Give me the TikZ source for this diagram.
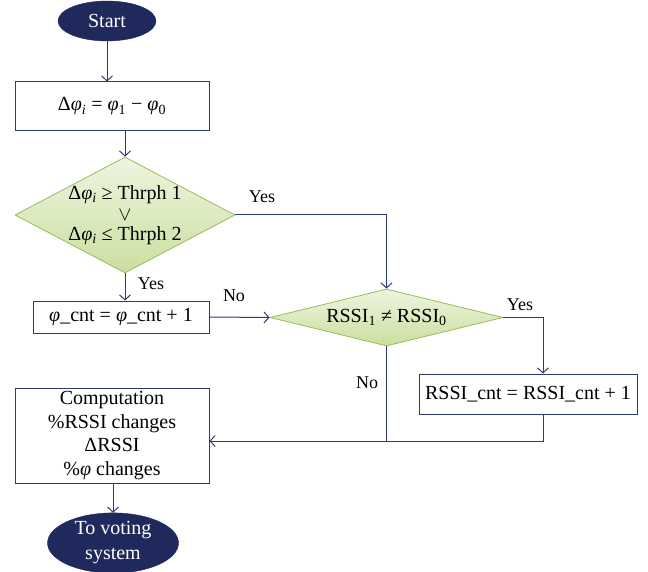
\documentclass[tikz,border=0pt]{standalone}
\usepackage{fontspec}
\setmainfont{Liberation Serif}
\usetikzlibrary{shapes.geometric,arrows.meta}
\definecolor{navy}{HTML}{1F295C}
\definecolor{lineblue}{HTML}{2E3A78}
\definecolor{dborder}{HTML}{9BBB59}
\definecolor{dtop}{HTML}{EEF5E0}
\definecolor{dbot}{HTML}{C9DFA0}
\newcommand{\ph}{\textit{φ}}
\newcommand{\lowsub}[1]{\textsubscript{#1}}
\tikzset{
  term/.style={ellipse, fill=navy, draw=navy, text=white, inner sep=0pt, align=center},
  procbox/.style={rectangle, draw=lineblue, line width=1pt, fill=white, inner sep=0pt, align=center},
  decision/.style={diamond, draw=dborder, line width=0.8pt, top color=dtop, bottom color=dbot, inner sep=0pt, shape aspect=1},
  txt/.style={inner sep=0pt, align=center},
  conn/.style={draw=lineblue, line width=1pt, -{Straight Barb[length=5pt,width=11pt,line width=1pt]}},
  line/.style={draw=lineblue, line width=1pt},
  lab/.style={inner sep=0pt, font=\fontsize{18}{20}\selectfont}
}
\begin{document}
\begin{tikzpicture}[x=1pt,y=-1pt, font=\fontsize{20}{23.5}\selectfont]
\useasboundingbox (0,0) rectangle (648,572);
\node[term, minimum width=98pt, minimum height=40pt] (start) at (107,21) {Start};
\node[procbox, minimum width=194pt, minimum height=49pt] (box1) at (112,106.5) {Δ\ph\lowsub{\textit{i}} = \ph\lowsub{1} − \ph\lowsub{0}};
\node[decision, minimum width=220pt, minimum height=116pt] (d1) at (125,215) {};
\node[txt] (d1a) at (125,195) {Δ\ph\lowsub{\textit{i}} ≥ Thrph 1};
\node[txt] (d1b) at (125,215.5) {\scalebox{0.95}{$\vee$}};
\node[txt] (d1c) at (125,236) {Δ\ph\lowsub{\textit{i}} ≤ Thrph 2};
\node[procbox, minimum width=176pt, minimum height=32pt] (box2) at (121,317) {\ph\_cnt = \ph\_cnt + 1};
\node[decision, minimum width=233pt, minimum height=57pt] (d2) at (386.5,317.5) {};
\node[txt] (d2t) at (386.5,317.5) {RSSI\lowsub{1} ≠ RSSI\lowsub{0}};
\node[procbox, minimum width=218pt, minimum height=40pt] (box3) at (528,394) {RSSI\_cnt = RSSI\_cnt + 1};
\node[procbox, minimum width=194pt, minimum height=95pt] (comp) at (112,435.5) {Computation\\\%RSSI changes\\ΔRSSI\\\%\ph{} changes};
\node[term, minimum width=131pt, minimum height=58pt, font=\fontsize{20}{25}\selectfont] (stop) at (113,543) {To voting\\system};
\coordinate (c3) at (543,317.5);
\coordinate (c3b) at (543,414);
\coordinate (j2) at (543,441);
\coordinate (j1) at (386.5,441);
% connectors
\draw[conn] (start.south) -- (start.south |- box1.north);
\draw[conn] (d1.north |- box1.south) -- (d1.north);
\draw[conn] (d1.east) -| (d2.north);
\draw[conn] (d1.south) -- (d1.south |- box2.north);
\draw[conn] (box2.east) -- (d2.west);
\draw[conn] (d2.east) -- (c3) -- (c3 |- box3.north);
\draw[line] (d2.south) -- (j1);
\draw[conn] (c3b) -- (j2) -- (j2 -| comp.east);
\draw[conn] (comp.south -| stop.north) -- (stop.north);
% labels
\node[lab] (l1) at (262,197) {Yes};
\node[lab] (l2) at (151,284) {Yes};
\node[lab] (l3) at (234,296) {No};
\node[lab] (l4) at (520,305) {Yes};
\node[lab] (l5) at (367,383) {No};
\end{tikzpicture}
\end{document}
